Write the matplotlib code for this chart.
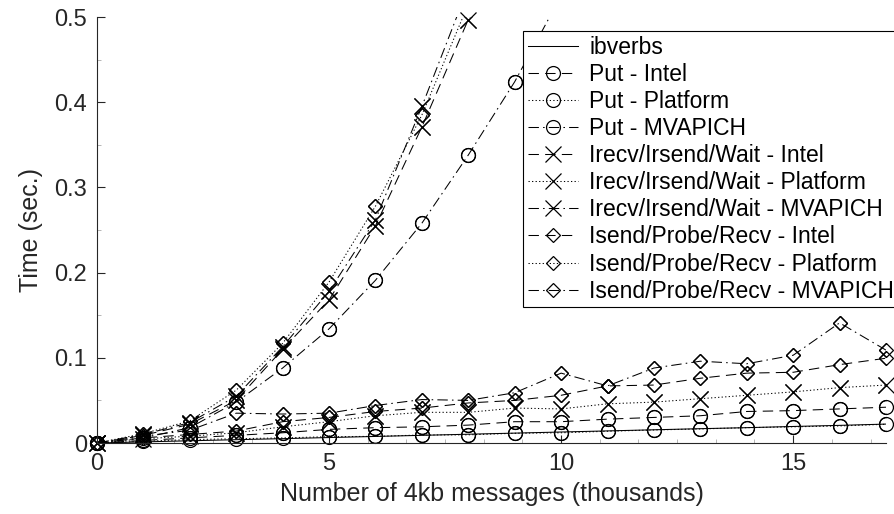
import matplotlib
matplotlib.use("Agg")
import matplotlib.pyplot as plt
from matplotlib.ticker import MultipleLocator, FixedLocator

plt.rcParams['font.family'] = ['Liberation Sans', 'DejaVu Sans']

# x values (thousands of 4kb messages)
x_all = list(range(0, 18))

ibverbs = [0, 0.0013, 0.0026, 0.0039, 0.0051, 0.0064, 0.0077, 0.0090, 0.0103,
           0.0116, 0.0129, 0.0142, 0.0155, 0.0168, 0.0180, 0.0194, 0.0207, 0.0222]

put_intel = [0, 0.003, 0.006, 0.009, 0.012, 0.016, 0.018, 0.019, 0.021,
             0.025, 0.025, 0.028, 0.030, 0.032, 0.037, 0.038, 0.040, 0.042]
put_platform = [0, 0.002, 0.004, 0.005, 0.006, 0.0074, 0.0078, 0.0094, 0.0096,
                0.0114, 0.012, 0.0138, 0.0153, 0.0165, 0.018, 0.019, 0.020, 0.022]
put_mvapich = [0, 0.006, 0.018, 0.048, 0.088, 0.134, 0.191, 0.258, 0.338,
               0.424, 0.525]

irecv_intel = [0, 0.009, 0.022, 0.050, 0.110, 0.168, 0.255, 0.371, 0.497, 0.63]
irecv_platform = [0, 0.005, 0.008, 0.012, 0.019, 0.025, 0.032, 0.036, 0.036,
                  0.041, 0.040, 0.046, 0.048, 0.052, 0.056, 0.060, 0.065, 0.068]
irecv_mvapich = [0, 0.010, 0.024, 0.055, 0.113, 0.178, 0.262, 0.395, 0.535]

isend_intel = [0, 0.006, 0.010, 0.014, 0.025, 0.030, 0.037, 0.041, 0.047,
               0.050, 0.056, 0.067, 0.068, 0.076, 0.082, 0.083, 0.092, 0.0995]
isend_platform = [0, 0.011, 0.026, 0.062, 0.117, 0.189, 0.278, 0.385, 0.515]
isend_mvapich = [0, 0.008, 0.015, 0.035, 0.034, 0.035, 0.044, 0.051, 0.050,
                 0.059, 0.082, 0.067, 0.088, 0.096, 0.093, 0.103, 0.141, 0.109]

labels = ['ibverbs', 'Put - Intel', 'Put - Platform', 'Put - MVAPICH',
          'Irecv/Irsend/Wait - Intel', 'Irecv/Irsend/Wait - Platform',
          'Irecv/Irsend/Wait - MVAPICH', 'Isend/Probe/Recv - Intel',
          'Isend/Probe/Recv - Platform', 'Isend/Probe/Recv - MVAPICH']

series = [ibverbs, put_intel, put_platform, put_mvapich,
          irecv_intel, irecv_platform, irecv_mvapich,
          isend_intel, isend_platform, isend_mvapich]

DASH = (0, (10, 6))
DOT = (0, (1.2, 2.2))
DASHDOT = (0, (10, 4, 1.5, 4))
styles = ['-', DASH, DOT, DASHDOT, DASH, DOT, DASHDOT, DASH, DOT, DASHDOT]
markers = [None, 'o', 'o', 'o', 'x', 'x', 'x', 'D', 'D', 'D']
msizes = [0, 10, 10, 10, 11, 11, 11, 7.5, 7.5, 7.5]

fig = plt.figure(figsize=(8.95, 5.14), dpi=100)
ax = fig.add_axes([97/895, 1-443/514, (886-97)/895, (443-17)/514])

lw = 0.75
for ys, lab, ls, mk, ms in zip(series, labels, styles, markers, msizes):
    xs = x_all[:len(ys)]
    ax.plot(xs, ys, color='black', linestyle=ls, linewidth=lw,
            marker=mk, markersize=ms, markerfacecolor='none',
            markeredgecolor='black', markeredgewidth=0.9, label=lab)
    if mk is not None:
        xin = [a for a, b in zip(xs, ys) if b <= 0.5]
        yin = [b for b in ys if b <= 0.5]
        ax.plot(xin, yin, linestyle='none', marker=mk, markersize=ms,
                markerfacecolor='none', markeredgecolor='black',
                markeredgewidth=0.9, clip_on=False)

ax.set_xlim(0, 17)
ax.set_ylim(0, 0.5)
ax.xaxis.set_major_locator(FixedLocator([0, 5, 10, 15]))
ax.yaxis.set_major_locator(FixedLocator([0, 0.1, 0.2, 0.3, 0.4, 0.5]))
ax.set_xticklabels(['0', '5', '10', '15'])
ax.set_yticklabels(['0', '0.1', '0.2', '0.3', '0.4', '0.5'])
ax.xaxis.set_minor_locator(MultipleLocator(5/6))
ax.yaxis.set_minor_locator(MultipleLocator(0.05))

for s in ['top', 'right']:
    ax.spines[s].set_visible(False)
for s in ['left', 'bottom']:
    ax.spines[s].set_color('#262626')
    ax.spines[s].set_linewidth(0.8)

ax.tick_params(axis='both', which='major', direction='in', length=6,
               width=0.8, color='#262626', labelsize=17, labelcolor='#262626', pad=7)
ax.tick_params(axis='both', which='minor', direction='in', length=3,
               width=0.6, color='#aaaaaa')

ax.set_xlabel('Number of 4kb messages (thousands)', fontsize=18,
              color='#262626', labelpad=5)
ax.set_ylabel('Time (sec.)', fontsize=18, color='#262626', labelpad=8)

handles, labs = ax.get_legend_handles_labels()
leg = fig.legend(handles, labs, loc='upper left',
                 bbox_to_anchor=(523/895, 1-31/514), fontsize=16.5,
                 frameon=True, fancybox=False, edgecolor='black',
                 framealpha=1, borderpad=0.2, labelspacing=0.18,
                 handlelength=2.2, handletextpad=0.5, borderaxespad=0)
leg.get_frame().set_linewidth(0.8)

fig.savefig('out.png', dpi=100)
